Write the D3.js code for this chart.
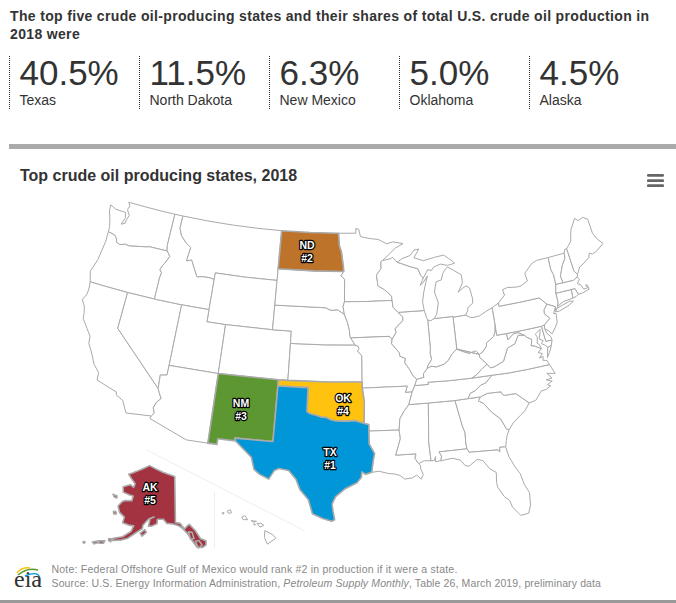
<!DOCTYPE html>
<html><head><meta charset="utf-8">
<script src="https://cdn.jsdelivr.net/npm/d3@7/dist/d3.min.js"></script>
<style>html,body{margin:0;padding:0;background:#fff;overflow:hidden}svg{display:block}text{font-family:"Liberation Sans",Arial,sans-serif}</style>
</head><body><svg id="c" width="676" height="603"></svg>
<script>
const headline = ["The top five crude oil-producing states and their shares of total U.S. crude oil production in","2018 were"];
const shareValues = ["40.5%","11.5%","6.3%","5.0%","4.5%"];
const shareStates = ["Texas","North Dakota","New Mexico","Oklahoma","Alaska"];
const chartTitle = "Top crude oil producing states, 2018";
const rankedStates = ["TX","ND","NM","OK","AK"];
const noteLine = "Note: Federal Offshore Gulf of Mexico would rank #2 in production if it were a state.";
const sourceParts = ["Source: U.S. Energy Information Administration, ","Petroleum Supply Monthly",", Table 26, March 2019, preliminary data"];

const r = a => [...a].reverse();
// Shared state borders, [lon, lat]
const waCoast=[[-122.76,49],[-122.5,48.75],[-122.65,48.4],[-122.25,48],[-122.4,47.6],[-122.45,47.3],[-122.85,47.15],[-122.6,47.7],[-122.75,48.15],[-123.2,48.15],[-124,48.17],[-124.72,48.38],[-124.65,47.9],[-124.3,47.3],[-124.05,46.7],[-124,46.27]];
const waOr=[[-124,46.27],[-123.4,46.2],[-123.15,46.15],[-122.85,45.9],[-122.75,45.65],[-122.3,45.55],[-121.7,45.7],[-121.2,45.65],[-120.6,45.75],[-119.9,45.85],[-119.3,45.93],[-118.98,46],[-116.92,46]];
const waId=[[-116.92,46],[-117.04,46.43],[-117.04,47.5],[-117.03,49]];
const waNorth=[[-117.03,49],[-119,49],[-121,49],[-122.76,49]];
const orCoast=[[-124,46.27],[-123.95,45.5],[-124.05,44.7],[-124.15,43.9],[-124.4,43.2],[-124.55,42.84],[-124.2,42]];
const orCa=[[-124.2,42],[-122.5,42],[-120,42]];
const orNv=[[-120,42],[-117.03,42]];
const orId=[[-117.03,42],[-117.03,43.8],[-116.95,44.2],[-117.2,44.4],[-117.05,44.75],[-116.85,45],[-116.47,45.6],[-116.7,45.85],[-116.92,46]];
const caCoast=[[-124.2,42],[-124.1,41.5],[-124.1,41],[-124.4,40.44],[-124,40],[-123.8,39.5],[-123.7,39],[-123,38.3],[-122.5,37.8],[-122.4,37.2],[-121.9,36.6],[-121.3,35.7],[-120.65,35.15],[-120.6,34.55],[-119.3,34.2],[-118.5,34],[-118.4,33.75],[-117.7,33.45],[-117.12,32.53]];
const caAz=[[-117.12,32.53],[-114.72,32.72],[-114.5,33],[-114.7,33.4],[-114.5,33.9],[-114.15,34.25],[-114.45,34.7],[-114.63,35]];
const caNv=[[-114.63,35],[-120,39],[-120,42]];
const nvAz=[[-114.04,37],[-114.05,36.2],[-114.7,36.1],[-114.63,35]];
const idMt=[[-116.05,49],[-116.05,48],[-115.7,47.45],[-114.95,46.93],[-114.35,46.65],[-114.5,45.55],[-113.95,45.7],[-113.45,45.05],[-113,44.45],[-112.3,44.55],[-111.5,44.55],[-111.05,44.48]];
const mtNorth=[[-116.05,49],[-113,49],[-110,49],[-107,49],[-104.05,49]];
const redRiver=[[-100,34.56],[-99.7,34.4],[-99.2,34.3],[-98.6,34.15],[-98.1,34.13],[-97.7,33.95],[-97.2,33.85],[-96.6,33.85],[-96,33.85],[-95.3,33.88],[-94.48,33.64]];
const txLa=[[-94.04,33.02],[-94.04,31.99],[-93.55,31.2],[-93.7,30.6],[-93.85,29.7]];
const txGulf=[[-93.85,29.7],[-94.4,29.55],[-94.75,29.75],[-94.8,29.3],[-95.2,28.9],[-96.3,28.4],[-97.1,27.8],[-97.4,27.2],[-97.3,26.6],[-97.15,25.96]];
const rioGrande=[[-97.15,25.96],[-97.4,25.84],[-98.2,26.05],[-99.1,26.4],[-99.5,27.5],[-100.3,28.3],[-100.7,29.1],[-101.4,29.77],[-102.3,29.88],[-102.7,29.7],[-103.15,28.98],[-104,29.3],[-104.55,29.65],[-104.9,30.6],[-106,31.4],[-106.53,31.78]];
const ksMo=[[-95.31,40],[-95,39.9],[-94.9,39.7],[-95.05,39.5],[-94.62,39.11]];
const neSd=[[-104.05,43],[-98.5,43],[-97.9,42.8],[-97.2,42.85],[-96.45,42.49]];
const neIa=[[-96.45,42.49],[-96.1,41.8],[-95.9,41.2],[-95.85,40.7],[-95.77,40.58]];
const sdMn=[[-96.56,45.94],[-96.85,45.6],[-96.45,45.3],[-96.45,43.5]];
const sdIa=[[-96.45,43.5],[-96.6,43.1],[-96.45,42.49]];
const ndMn=[[-97.23,49],[-97.1,48],[-96.85,47.5],[-96.6,46.3],[-96.56,45.94]];
const mnWi=[[-92.1,46.75],[-92.29,46.66],[-92.29,46.1],[-92.85,45.6],[-92.75,45],[-92.75,44.75],[-92,44.4],[-91.25,43.85],[-91.22,43.5]];
const iaWi=[[-91.22,43.5],[-91.15,42.95],[-90.64,42.51]];
const iaIl=[[-90.64,42.51],[-90.15,42.1],[-90.2,41.8],[-91.05,41.2],[-90.95,40.9],[-91.42,40.38]];
const moIl=[[-91.42,40.38],[-91.5,40],[-90.75,39.25],[-90.7,38.95],[-90.15,38.75],[-90.25,38.4],[-89.85,37.9],[-89.5,37.3],[-89.15,37]];
const moTn=[[-89.4,36.5],[-89.7,36]];
const arMs=[[-90.1,35],[-90.6,34.5],[-91.05,33.9],[-91.17,33]];
const laMs=[[-91.17,33],[-91.1,32.3],[-91.6,31],[-89.73,31],[-89.85,30.65],[-89.55,30.2]];
const msAl=[[-88.2,35],[-88.47,31.9],[-88.4,30.35]];
const alGa=[[-85.6,34.98],[-85.18,32.87],[-85,32.3],[-85.05,31.5],[-85,31]];
const alFl=[[-85,31],[-87.6,31],[-87.4,30.65],[-87.5,30.28]];
const flGa=[[-85,31],[-84.86,30.7],[-82.2,30.57],[-82.05,30.37],[-82,30.75],[-81.45,30.71]];
const gaSc=[[-83.11,35],[-83.35,34.7],[-82.9,34.45],[-82.2,33.6],[-81.5,33],[-81.1,32.1],[-80.87,32.03]];
const scNc=[[-83.11,35],[-82.4,35.2],[-81.05,35.15],[-81.05,35.05],[-80.8,34.82],[-79.67,34.8],[-78.55,33.86]];
const tnNc=[[-84.32,35],[-84.05,35.4],[-83.5,35.57],[-82.9,35.95],[-82.4,36.05],[-81.68,36.59]];
const ncVa=[[-81.68,36.59],[-80,36.54],[-78,36.54],[-75.87,36.55]];
const tnKy=[[-83.68,36.6],[-86,36.63],[-88.07,36.68],[-88.05,36.5],[-89.4,36.5]];
const kyVa=[[-83.68,36.6],[-83.1,36.85],[-82.6,37.2],[-81.97,37.54]];
const kyWv=[[-81.97,37.54],[-82.6,38.17],[-82.6,38.42]];
const kyOh=[[-82.6,38.42],[-82.9,38.75],[-83.65,38.63],[-84.25,38.85],[-84.82,39.1]];
const kyIn=[[-84.82,39.1],[-85.4,38.73],[-85.8,38.28],[-86.3,38],[-87.1,37.85],[-87.6,37.95],[-88.03,37.8]];
const kyIl=[[-88.03,37.8],[-88.45,37.4],[-88.45,37.1],[-89.15,37]];
const potomac=[[-76.3,37.95],[-76.95,38.3],[-77.25,38.35],[-77.05,38.85],[-77.5,39.1],[-77.72,39.32]];
const vaWv=[[-77.72,39.32],[-78.35,39.4],[-78.85,38.78],[-79.65,38.55],[-80.3,37.55],[-81.25,37.25],[-81.7,37.2],[-81.97,37.54]];
const wvOh=[[-82.6,38.42],[-82.2,38.6],[-81.75,39],[-81.7,39.25],[-80.9,39.65],[-80.65,40],[-80.52,40.64]];
const wvMd=[[-79.48,39.72],[-79.48,39.2],[-78.8,39.6],[-78.3,39.62],[-77.72,39.32]];
const paNj=[[-74.7,41.36],[-75.13,40.98],[-75.2,40.65],[-74.75,40.2],[-75.42,39.8]];
const inIl=[[-87.52,41.7],[-87.52,39.35],[-87.6,39],[-87.5,38.5],[-87.95,38],[-88.03,37.8]];
const wiMi=[[-87.6,45.1],[-87.85,45.35],[-88.1,45.9],[-88.9,46.1],[-90.4,46.55]];
const nyVt=[[-73.27,42.75],[-73.25,43.55],[-73.4,44],[-73.35,45]];
const vtNh=[[-72.46,42.73],[-72.55,43.3],[-72.3,43.7],[-72.05,44.1],[-71.55,44.6],[-71.5,45.01]];
const nhMe=[[-71.08,45.3],[-70.98,43.4],[-70.7,43.07]];

// State outlines
const stateOutlines = {
 WA:[...waCoast,...waOr,...waId,...waNorth],
 OR:[...orCoast,...orCa,...orNv,...orId,...r(waOr)],
 CA:[...caCoast,...caAz,...caNv,...r(orCa)],
 NV:[...orNv,[-114.04,42],[-114.04,37],...nvAz,...caNv],
 ID:[[-117.03,49],...idMt,[-111.05,42],[-114.04,42],[-117.03,42],...orId,...waId],
 MT:[...mtNorth,[-104.05,45.94],[-104.05,45],[-107.5,45],[-111.05,45],...r(idMt)],
 WY:[[-111.05,44.48],[-111.05,45],[-107.5,45],[-104.05,45],[-104.05,43],[-104.05,41],[-109.05,41],[-111.05,41],[-111.05,42]],
 UT:[[-114.04,42],[-111.05,42],[-111.05,41],[-109.05,41],[-109.05,37],[-114.04,37]],
 CO:[[-109.05,41],[-104.05,41],[-102.05,41],[-102.05,40],[-102.05,37],[-103,37],[-109.05,37]],
 AZ:[[-114.04,37],[-109.05,37],[-109.05,31.33],[-111.07,31.33],[-114.8,32.5],...caAz.slice(1),...r(nvAz)],
 NM:[[-109.05,37],[-103,37],[-103,36.5],[-103.04,32],[-106.62,32],[-106.53,31.78],[-108.2,31.78],[-108.2,31.33],[-109.05,31.33]],
 KS:[[-102.05,40],[-98.5,40],...ksMo,[-94.62,37],[-98,37],[-102.05,37]],
 NE:[...neSd,...neIa,ksMo[0],[-98.5,40],[-102.05,40],[-102.05,41],[-104.05,41]],
 SD:[[-104.05,45.94],[-100,45.94],...sdMn,...sdIa,...r(neSd),[-104.05,45]],
 ND:[[-104.05,49],[-100.6,49],...ndMn,[-100,45.94],[-104.05,45.94]],
 MN:[[-97.23,49],[-95.15,49],[-95.15,49.38],[-94.8,49.3],[-94.6,48.72],[-93.5,48.55],[-92.5,48.45],[-91.5,48.07],[-90.8,48.2],[-89.6,48],[-90.5,47.7],[-91.5,47.1],...mnWi,[-94,43.5],[-96.45,43.5],...r(sdMn),...r(ndMn)],
 IA:[[-96.45,43.5],[-94,43.5],...iaWi,...iaIl,[-91.73,40.61],[-95.77,40.58],...r(neIa),...r(sdIa)],
 MO:[[-95.77,40.58],[-91.73,40.61],...moIl,...moTn,[-90.37,36],[-90.15,36.5],[-94.62,36.5],[-94.62,37],...r(ksMo)],
 AR:[[-94.62,36.5],[-90.15,36.5],[-90.37,36],[-89.7,36],...arMs,[-94.04,33.02],[-94.04,33.55],[-94.48,33.64],[-94.43,35.4]],
 OK:[[-103,37],[-102.05,37],[-98,37],[-94.62,37],[-94.62,36.5],[-94.43,35.4],...r(redRiver),[-100,36.5],[-103,36.5]],
 TX:[[-103,36.5],[-100,36.5],...redRiver,[-94.04,33.55],...txLa,...txGulf,...rioGrande,[-106.62,32],[-103.04,32]],
 LA:[[-94.04,33.02],...laMs,[-89.4,30.05],[-89.4,29.8],[-89.2,29.3],[-89.4,28.95],[-89.8,29.3],[-90.2,29.1],[-90.9,29.05],[-91.3,29.35],[-91.8,29.5],[-92.3,29.55],[-93.2,29.77],...r(txLa)],
 MS:[...r(arMs),[-88.2,35],...msAl,[-89,30.4],...r(laMs)],
 AL:[[-88.2,35],...alGa,...alFl,[-88,30.25],[-87.95,30.65],[-88.1,30.35],[-88.4,30.35],...r(msAl).slice(1)],
 GA:[[-85.6,34.98],[-84.32,35],...gaSc,[-81.15,31.6],[-81.3,31.2],[-81.45,30.71],...r(flGa),...r(alGa)],
 FL:[...r(alFl),...flGa,[-81.3,29.9],[-80.9,29],[-80.55,28.4],[-80.35,27.5],[-80.03,26.8],[-80.13,25.8],[-80.4,25.2],[-81.1,25.13],[-81.7,25.9],[-81.85,26.45],[-82.25,26.8],[-82.7,27.6],[-82.75,28],[-82.65,28.8],[-83.2,29.2],[-83.7,29.9],[-84.2,30.05],[-85,29.6],[-85.35,29.68],[-85.7,30.15],[-86.4,30.38]],
 SC:[...scNc,[-79.1,33.3],[-79.6,33],[-80.4,32.5],...r(gaSc)],
 NC:[...tnNc,...ncVa,[-75.5,35.75],[-76.3,35.9],[-75.9,35.45],[-76.5,35.4],[-75.95,35.2],[-76.5,35],[-76.2,34.85],[-76.7,34.65],[-77.2,34.6],[-77.9,33.95],...r(scNc)],
 TN:[[-90.1,35],[-88.2,35],[-85.6,34.98],...tnNc,...tnKy,...moTn],
 KY:[[-89.15,37],...r(tnKy),...kyVa,...kyWv,...kyOh,...kyIn,...kyIl],
 VA:[...tnKy.slice(0,1),...ncVa,[-76,36.92],[-76.4,37],[-76.3,37.3],[-76.7,37.25],[-76.3,37.55],[-76.7,37.7],...potomac,...vaWv,...r(kyVa)],
 VAshore:[[-75.9,37.15],[-75.65,37.95],[-75.24,38.03],[-75.6,37.5]],
 WV:[...kyWv,...wvOh,[-80.52,39.72],...wvMd,...vaWv],
 MD:[[-79.48,39.72],[-77.5,39.72],[-75.79,39.72],[-75.7,38.46],[-75.05,38.45],[-75.24,38.03],[-75.65,37.95],[-75.9,38.2],[-76.2,38.35],[-75.95,38.55],[-76.3,38.75],[-76.1,39.2],[-76,39.5],[-76.6,39.2],[-76.45,38.95],[-76.6,38.45],[-76.4,38.3],...potomac,...r(wvMd)],
 DE:[[-75.79,39.72],[-75.42,39.8],[-75.55,39.5],[-75.4,39.05],[-75.1,38.75],[-75.05,38.45],[-75.7,38.46]],
 PA:[[-80.52,41.98],[-79.76,42.27],[-79.76,42],[-77.5,42],[-75.35,42],...paNj,[-75.79,39.72],[-77.5,39.72],[-79.48,39.72],[-80.52,39.72],[-80.52,40.64]],
 OH:[[-84.82,39.1],[-84.8,41.7],[-83.45,41.73],[-83,41.5],[-82.7,41.45],[-82,41.5],[-81.3,41.75],[-80.52,41.98],...r(wvOh),...r(kyOh)],
 IN:[[-84.82,39.1],[-84.8,41.7],[-84.8,41.76],[-86.82,41.76],[-87.2,41.62],...inIl,...r(kyIn)],
 IL:[[-90.64,42.51],[-87.8,42.49],[-87.6,41.85],...inIl,...kyIl,...r(moIl),...r(iaIl)],
 WI:[[-90.64,42.51],[-87.8,42.49],[-87.9,43.2],[-87.7,43.9],[-87.5,44.4],[-87.1,45.25],[-87.7,44.7],[-88,44.55],...wiMi,[-90.9,46.95],[-91.2,46.85],...mnWi,...iaWi],
 MI:[[-84.8,41.76],[-84.8,41.7],[-83.45,41.73],[-83.15,42.05],[-83.1,42.3],[-82.5,42.6],[-82.45,43],[-82.6,43.85],[-82.95,44.07],[-83.4,43.9],[-83.9,43.65],[-83.3,44.35],[-83.3,45],[-84.1,45.45],[-84.75,45.78],[-85.1,45.55],[-85.35,45.3],[-85.6,44.8],[-86.2,44.7],[-86.5,43.9],[-86.2,43],[-86.5,42.1],[-86.82,41.76]],
 MIupper:[[-90.4,46.55],[-89.8,46.82],[-88.9,47],[-88.4,47.4],[-87.8,47.47],[-88.45,46.8],[-87.4,46.5],[-86.1,46.67],[-85,46.77],[-84.5,46.45],[-84.1,46.2],[-83.9,46],[-84.7,45.9],[-85.5,46.08],[-86.3,45.9],[-86.6,45.65],[-87,45.75],...wiMi],
 NY:[[-79.76,42.27],[-79.76,42],[-77.5,42],[-75.35,42],[-74.7,41.36],[-73.9,41],[-74,40.7],[-73.75,40.85],[-73.65,41],[-73.5,41.3],[-73.5,42.05],...nyVt,[-74.7,45],[-75.3,44.85],[-76.3,44.2],[-76.2,43.55],[-77,43.28],[-77.5,43.25],[-78.5,43.37],[-79.05,43.27],[-79,42.9],[-78.9,42.85]],
 LI:[[-74.03,40.6],[-73.75,40.85],[-72.3,41.15],[-71.9,41.07],[-72.6,40.8],[-73.6,40.58]],
 NJ:[[-74.7,41.36],[-73.9,41],[-74.25,40.5],[-74,40.45],[-74.1,39.75],[-74.4,39.4],[-74.9,38.93],[-75.15,39.2],[-75.55,39.5],[-75.42,39.8],...r(paNj).slice(1)],
 CT:[[-73.5,42.05],[-71.8,42.02],[-71.85,41.32],[-72.9,41.25],[-73.65,41],[-73.5,41.3]],
 RI:[[-71.8,42.02],[-71.38,42.02],[-71.2,41.5],[-71.5,41.37],[-71.85,41.32]],
 MA:[[-73.5,42.05],[-71.8,42.02],[-71.38,42.02],[-71.2,41.5],[-70.65,41.52],[-69.97,41.65],[-70,42],[-70.2,42.07],[-70.05,41.8],[-70.5,41.78],[-70.7,42.2],[-71,42.35],[-70.65,42.65],[-70.82,42.87],[-71.3,42.7],[-72.46,42.73],[-73.27,42.75]],
 VT:[[-73.27,42.75],...vtNh,[-73.35,45],...r(nyVt).slice(1)],
 NH:[...vtNh,[-71.3,45.3],...nhMe,[-70.82,42.87],[-71.3,42.7]],
 ME:[...nhMe,[-70.25,43.6],[-69.8,43.75],[-69,44.1],[-68.8,44.45],[-68.5,44.3],[-68,44.4],[-67,44.85],[-67.45,45.3],[-67.78,45.9],[-67.8,47.07],[-68.3,47.35],[-68.9,47.2],[-69.23,47.46],[-70,46.7],[-70.25,46.2],[-70.4,45.8]]
};
const alaskaOutlines = {
 AK:[[-156.5,71.35],[-152,70.85],[-148,70.4],[-144,70],[-141,69.65],[-141,60.3],[-139.1,60.1],[-137.5,58.9],[-136.5,59.4],[-135.4,59.75],[-133.4,58.4],[-131.8,56.6],[-130,56],[-130.2,55.2],[-131.5,54.8],[-133.5,55],[-135,56.5],[-136.5,58],[-138.5,59.2],[-140,59.7],[-142,60],[-144.5,60.1],[-146,60.9],[-148.5,60.8],[-148.5,59.9],[-150.5,59.3],[-151.8,59.2],[-151.5,60.7],[-150,61.2],[-152,60.7],[-153,60],[-154,59.2],[-154,58.5],[-156,57.5],[-158.5,56],[-161,55.2],[-163.5,54.7],[-164.8,54.6],[-163,55.3],[-160.5,56],[-158,57.5],[-157.5,58.7],[-159,58.6],[-162,58.7],[-162,59.9],[-164.5,60.5],[-166,61.6],[-165,62.7],[-164,63.1],[-161,63.5],[-161,64.5],[-163,64.5],[-166,64.6],[-167,65.6],[-164,66.5],[-162,66.2],[-161.8,67],[-164,67.6],[-166.7,68.4],[-165,68.9],[-163,69.5],[-160,70.4]],
 Kodiak:[[-154.5,57.5],[-153,58.4],[-152.2,57.9],[-153.6,57]],
 Nunivak:[[-167,60.3],[-166,60.4],[-165.5,60],[-166.5,59.8]],
 StLawrence:[[-170,63.4],[-168,63.4],[-167.8,63],[-169,63]],
 Unimak:[[-165,54.8],[-164,54.9],[-164,54.3],[-164.8,54.4]],
 Unalaska:[[-168,53.6],[-166,54.1],[-166.2,53.5],[-167.5,53.2]],
 Umnak:[[-169.8,52.9],[-168.3,53.5],[-168,53.2],[-169,52.7]],
 Amlia:[[-172.6,52.2],[-172,52.3],[-172,52],[-172.5,52]],
 Prince:[[-133.9,56.2],[-132.5,56.3],[-131.6,55.3],[-133,54.8]],
 Baranof:[[-136,58.3],[-134.6,58.1],[-134.2,56.8],[-135.5,56.8]]
};
const hawaiiOutlines = {
 Big:[[-155.9,20.25],[-155.1,19.85],[-154.8,19.5],[-155.65,18.95],[-155.95,19.6]],
 Maui:[[-156.7,20.95],[-156.3,20.95],[-156,20.75],[-156.4,20.58]],
 Molokai:[[-157.3,21.2],[-156.75,21.15],[-157,21.05]],
 Lanai:[[-157.05,20.9],[-156.85,20.85],[-156.95,20.75]],
 Oahu:[[-158.25,21.55],[-157.95,21.7],[-157.65,21.3],[-158.1,21.3]],
 Kauai:[[-159.75,22.1],[-159.4,22.23],[-159.3,21.95],[-159.6,21.9]],
 Niihau:[[-160.25,21.95],[-160.05,21.95],[-160.15,21.8]]
};
const rankColors = {TX:"#0096d7",ND:"#bd732a",NM:"#5d9732",OK:"#ffc20e",AK:"#a33340"};
const rankLabels = [["ND",307,245],["NM",241,403],["OK",343,398],["TX",330,452],["AK",150,487]];

const svg = d3.select("#c");
svg.append("g").selectAll("text").data(headline).join("text")
  .attr("x",10).attr("y",(d,i)=>[21,39][i]).text(d=>d)
  .attr("font-size",14).attr("font-weight","bold").attr("fill","#333").style("letter-spacing","0.34px");

const x = d3.scaleLinear().domain([0,5]).range([9.5,659.5]);
const stat = svg.append("g").selectAll("g").data(shareValues).join("g").attr("transform",(d,i)=>`translate(${x(i)},0)`);
stat.append("line").attr("y1",56).attr("y2",109).attr("stroke","#333").attr("stroke-dasharray","1 1");
stat.append("text").attr("x",10).attr("y",85).attr("font-size",35).attr("fill","#333").text(d=>d);
stat.append("text").attr("x",10).attr("y",105).attr("font-size",14).attr("fill","#333").text((d,i)=>shareStates[i]);

svg.append("rect").attr("x",9).attr("y",144).attr("width",667).attr("height",5).attr("fill","#aaa");
svg.append("text").attr("x",20).attr("y",181).attr("font-size",16).attr("font-weight","bold").attr("fill","#333").text(chartTitle);
svg.append("g").selectAll("rect").data([174,179.3,184.3]).join("rect").attr("x",647).attr("y",d=>d).attr("width",17).attr("height",2.8).attr("rx",1.2).attr("fill","#666");

const base = d3.geoConicConformal().parallels([33,45]).rotate([96,0]).center([0,39]).scale(1).translate([0,0]);
const main = p => { const q = base(p); return [721.14*q[0]-2.04*q[1]+348.41, -3.61*q[0]+711.36*q[1]+357.4]; };
const akP = d3.geoConicEqualArea().parallels([55,65]).rotate([142,0]).center([0,60]).scale(283).translate([173,524]);
const hiP = d3.geoConicEqualArea().parallels([8,18]).rotate([157,0]).center([0,20.5]).scale(600).translate([254,528]);
const ln = d3.line().curve(d3.curveLinearClosed);

const seps = svg.append("g").attr("stroke","#eee").attr("fill","none");
seps.append("line").attr("x1",147).attr("y1",450).attr("x2",305).attr("y2",531);
seps.append("line").attr("x1",214.5).attr("y1",492).attr("x2",214.5).attr("y2",548);

function draw(outlines, proj){
  const rows = Object.entries(outlines).map(([k,v])=>({key:proj===akP?"AK":k,d:ln(v.map(proj))}));
  rows.sort((a,b)=>(rankColors[a.key]?1:0)-(rankColors[b.key]?1:0));
  svg.append("g").selectAll("path").data(rows).join("path").attr("d",d=>d.d)
    .attr("fill",d=>rankColors[d.key]||"#fff").attr("stroke","#aaa").attr("stroke-linejoin","round")
    .attr("stroke-width",d=>rankColors[d.key]?1.6:1);
}
draw(stateOutlines,main);
draw(alaskaOutlines,akP);
draw(hawaiiOutlines,hiP);

const labs = svg.append("g").selectAll("g").data(rankLabels).join("g");
[0,1].forEach(i=>{
  labs.append("text").attr("x",d=>d[1]).attr("y",d=>d[2]+i*13.5+3.5).attr("text-anchor","middle")
   .attr("font-size",10.5).attr("font-weight","bold").attr("fill","#fff").attr("stroke","#000").attr("stroke-width",2.4)
   .attr("stroke-linejoin","round").style("paint-order","stroke")
   .text(d=>i===0?d[0]:"#"+(rankedStates.indexOf(d[0])+1));
});

// logo
const arcP=(x0,y0,cx,cy,x1,y1)=>{const p=d3.path();p.moveTo(x0,y0);p.quadraticCurveTo(cx,cy,x1,y1);return p.toString();};
const logo=[[17,573,22,567,30,568,"#f5c518"],[18,575,27,567,38,570,"#5d9732"],[25,576,44,568,39,587,"#0096d7"]];
svg.append("g").selectAll("path").data(logo).join("path").attr("d",d=>arcP(...d.slice(0,6))).attr("fill","none").attr("stroke",d=>d[6]).attr("stroke-width",1.5);
svg.append("text").attr("x",14).attr("y",587).attr("font-size",24).style("font-family","'Liberation Serif',serif").attr("fill","#333").text("eia");

svg.append("text").attr("x",51.5).attr("y",573).attr("font-size",10.5).attr("fill","#888").style("letter-spacing","0.22px").text(noteLine);
const src = svg.append("text").attr("x",51.5).attr("y",587).attr("font-size",10.5).attr("fill","#888").style("letter-spacing","0.125px");
sourceParts.forEach((t,i)=>src.append("tspan").attr("font-style",i===1?"italic":null).text(t));
svg.append("rect").attr("x",0).attr("y",600).attr("width",676).attr("height",3).attr("fill","#999");
</script></body></html>
